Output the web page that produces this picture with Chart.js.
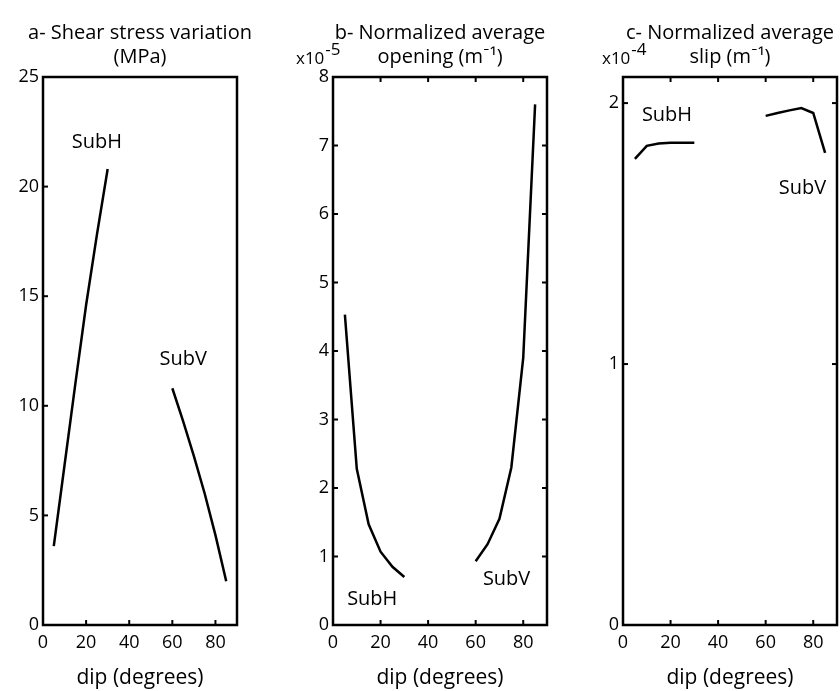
<!DOCTYPE html>
<html>
<head>
<meta charset="utf-8">
<title>Fault dip panels</title>
<script src="https://cdn.jsdelivr.net/npm/chart.js@4.4.1/dist/chart.umd.min.js"></script>
<style>
  html, body { margin: 0; padding: 0; background: #fff; overflow: hidden; }
  #wrap { position: relative; width: 840px; height: 691px; }
  #wrap canvas { position: absolute; top: 0; }
</style>
</head>
<body>
<div id="wrap">
  <canvas id="chartA" style="left:0px;width:280px;height:691px" width="280" height="691"></canvas>
  <canvas id="chartB" style="left:290px;width:300px;height:691px" width="300" height="691"></canvas>
  <canvas id="chartC" style="left:580px;width:300px;height:691px" width="300" height="691"></canvas>
</div>
<script>
"use strict";

// dips (degrees) of the two families
var dipH = [5, 10, 15, 20, 25, 30];
var dipV = [60, 65, 70, 75, 80, 85];

// a- shear stress (MPa)
var shearH = [3.6, 7.3, 11.0, 14.6, 17.8, 20.8];
var shearV = [10.8, 9.3, 7.7, 6.0, 4.1, 2.0];
// b- normalized average opening (x1e-5 1/m)
var openH = [4.53, 2.28, 1.47, 1.07, 0.85, 0.70];
var openV = [0.93, 1.18, 1.55, 2.3, 3.9, 7.6];
// c- normalized average slip (x1e-4 1/m)
var slipH = [1.786, 1.836, 1.845, 1.848, 1.848, 1.848];
var slipV = [1.951, 1.962, 1.972, 1.981, 1.962, 1.809];

var xTicks = [0, 20, 40, 60, 80];
var shearTicks = [0, 5, 10, 15, 20, 25];
var openTicks = [0, 1, 2, 3, 4, 5, 6, 7, 8];
var slipTicks = [0, 1, 2];

// curve labels, placed in data units
var notesA = [{ text: "SubH", x: 25, y: 22.0 }, { text: "SubV", x: 65, y: 12.1 }];
var notesB = [{ text: "SubH", x: 16.5, y: 0.37 }, { text: "SubV", x: 73, y: 0.66 }];
var notesC = [{ text: "SubH", x: 18.5, y: 1.954 }, { text: "SubV", x: 75.5, y: 1.675 }];

var FONT = "'Open Sans', Lato, sans-serif";
Chart.defaults.color = "#000";
Chart.defaults.font.family = FONT;
Chart.defaults.font.size = 18;

function pts(xs, ys) {
    return xs.map(function (d, i) { return { x: d, y: ys[i] }; });
}

// frame, inward ticks, curve labels and exponent
var framePlugin = {
    id: "frame",
    afterDraw: function (chart, args, opts) {
        var ctx = chart.ctx, a = chart.chartArea;
        var sx = chart.scales.x, sy = chart.scales.y;
        var len = 5;
        function seg(x1, y1, x2, y2) {
            ctx.beginPath(); ctx.moveTo(x1, y1); ctx.lineTo(x2, y2); ctx.stroke();
        }
        ctx.save();
        ctx.strokeStyle = "#000";
        ctx.lineWidth = 2;
        sx.ticks.forEach(function (t) {
            if (t.value <= sx.min || t.value >= sx.max) return;
            var px = sx.getPixelForValue(t.value);
            seg(px, a.bottom, px, a.bottom - len);
            if (opts.mirror) seg(px, a.top, px, a.top + len);
        });
        sy.ticks.forEach(function (t) {
            if (t.value <= sy.min || t.value >= sy.max) return;
            var py = sy.getPixelForValue(t.value);
            seg(a.left, py, a.left + len, py);
            if (opts.mirror) seg(a.right, py, a.right - len, py);
        });
        ctx.lineWidth = 2.5;
        ctx.strokeRect(a.left, a.top, a.right - a.left, a.bottom - a.top);

        ctx.fillStyle = "#000";
        ctx.font = "20px " + FONT;
        ctx.textAlign = "center";
        ctx.textBaseline = "middle";
        (opts.notes || []).forEach(function (n) {
            ctx.fillText(n.text, sx.getPixelForValue(n.x), sy.getPixelForValue(n.y));
        });

        if (opts.exponent) {
            ctx.textAlign = "left";
            var ex = a.left - opts.expShift;
            ctx.font = "17px " + FONT;
            ctx.fillText("x10", ex, 59);
            var w = ctx.measureText("x10").width;
            ctx.fillText(opts.exponent, ex + w + 1, 50);
        }
        ctx.restore();
    }
};

function makePanel(id, titleLines, yMax, yTicks, hVals, vVals, notes, mirror, exponent, expShift) {
    return new Chart(document.getElementById(id), {
        type: "line",
        data: {
            datasets: [
                { label: "SubH", data: pts(dipH, hVals) },
                { label: "SubV", data: pts(dipV, vVals) }
            ]
        },
        options: {
            responsive: false,
            animation: false,
            events: [],
            layout: { padding: 0 },
            elements: {
                line: { borderColor: "#000", borderWidth: 2.5, tension: 0, fill: false },
                point: { radius: 0 }
            },
            plugins: {
                legend: { display: false },
                tooltip: { enabled: false },
                title: {
                    display: true,
                    text: titleLines,
                    color: "#000",
                    font: { size: 20, weight: "normal", lineHeight: 24 / 20 },
                    padding: { top: 21, bottom: 8 }
                },
                frame: { notes: notes, mirror: mirror, exponent: exponent, expShift: expShift }
            },
            scales: {
                x: {
                    type: "linear",
                    min: 0,
                    max: 90,
                    grid: { display: false, drawTicks: false },
                    border: { display: false },
                    afterBuildTicks: function (s) { s.ticks = xTicks.map(function (v) { return { value: v }; }); },
                    afterFit: function (s) { s.height = 66; },
                    ticks: { padding: 7, maxRotation: 0, autoSkip: false, font: { size: 18 } },
                    title: { display: true, text: "dip (degrees)", font: { size: 21 }, padding: { top: 0, bottom: 0 } }
                },
                y: {
                    type: "linear",
                    min: 0,
                    max: yMax,
                    grid: { display: false, drawTicks: false },
                    border: { display: false },
                    afterBuildTicks: function (s) { s.ticks = yTicks.map(function (v) { return { value: v }; }); },
                    afterFit: function (s) { s.width = 43; },
                    ticks: { padding: 4, autoSkip: false, font: { size: 18 } }
                },
                // empty right-hand band so the title centres over the plot
                yr: {
                    type: "linear",
                    position: "right",
                    grid: { display: false, drawTicks: false },
                    border: { display: false },
                    ticks: { display: false },
                    afterFit: function (s) { s.width = 43; }
                }
            }
        },
        plugins: [framePlugin]
    });
}

makePanel("chartA", ["a- Shear stress variation", "(MPa)"], 25, shearTicks, shearH, shearV, notesA, false, null, 0);
makePanel("chartB", ["b- Normalized average", "opening (m\u207B\u00B9)"], 8, openTicks, openH, openV, notesB, true, "-5", 37);
makePanel("chartC", ["c- Normalized average", "slip (m\u207B\u00B9)"], 2.1, slipTicks, slipH, slipV, notesC, true, "-4", 21);
</script>
</body>
</html>
